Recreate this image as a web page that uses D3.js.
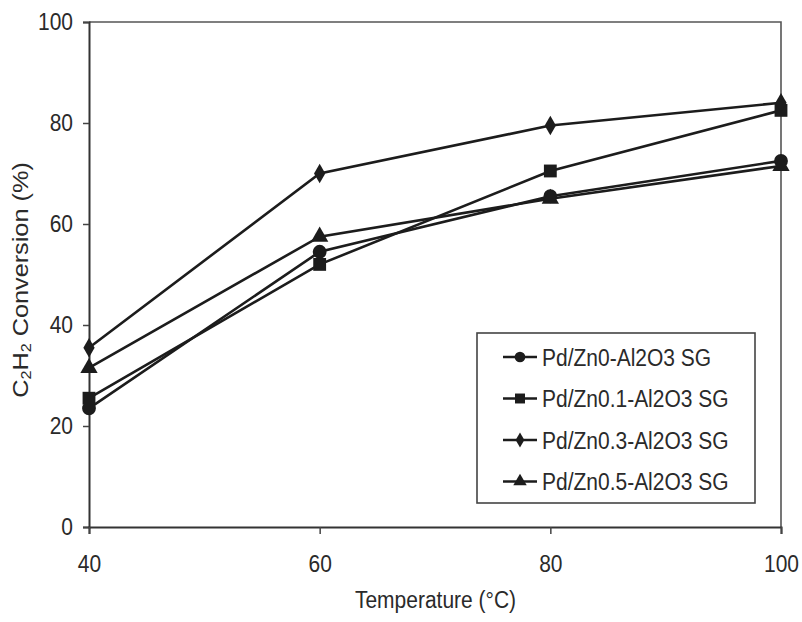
<!DOCTYPE html>
<html>
<head>
<meta charset="utf-8">
<script src="https://cdn.jsdelivr.net/npm/d3@7"></script>
<style>
  body { margin: 0; background: #fff; }
  text { font-family: "Liberation Sans", Arial, sans-serif; fill: #2a2a2a; }
</style>
</head>
<body>
<div id="chart"></div>
<script>
// data
var temps = [40, 60, 80, 100];
var seriesNames = ["Pd/Zn0-Al2O3 SG", "Pd/Zn0.1-Al2O3 SG", "Pd/Zn0.3-Al2O3 SG", "Pd/Zn0.5-Al2O3 SG"];
var zn0 = [23.5, 54.5, 65.5, 72.5];
var zn01 = [25.5, 52, 70.5, 82.5];
var zn03 = [35.5, 70, 79.5, 84];
var zn05 = [31.5, 57.5, 65, 71.5];
var yTicks = [0, 20, 40, 60, 80, 100];
var xTicks = [40, 60, 80, 100];

var series = [
    { name: seriesNames[0], values: zn0, symbol: d3.symbolCircle, size: 150 },
    { name: seriesNames[1], values: zn01, symbol: d3.symbolSquare, size: 165 },
    { name: seriesNames[2], values: zn03, symbol: d3.symbolDiamond, size: 110 },
    { name: seriesNames[3], values: zn05, symbol: d3.symbolTriangle, size: 130 }
];

// formatting parameters
var W = 802, H = 622;
var margin = { top: 22, bottom: 95, left: 89, right: 21 };
var width = W - margin.left - margin.right;
var height = H - margin.top - margin.bottom;
var ink = "#1c1c1c";
var tall = 1.12;   // text is a bit taller than plain Arial

var svg = d3.select("#chart")
    .append("svg")
    .attr("width", W)
    .attr("height", H)
    .append("g")
    .attr("transform", "translate(" + margin.left + "," + margin.top + ")");

var x = d3.scaleLinear().domain([40, 100]).range([0, width]);
var y = d3.scaleLinear().domain([0, 100]).range([height, 0]);

// plot area border (top and right)
svg.append("path")
    .attr("d", "M0,0H" + width + "V" + height)
    .attr("fill", "none")
    .attr("stroke", "#555")
    .attr("stroke-width", 1.6);

// y-axis
var yAxis = svg.append("g")
    .call(d3.axisLeft(y).tickValues(yTicks).tickSize(6).tickPadding(10));
// x-axis
var xAxis = svg.append("g")
    .attr("transform", "translate(0," + height + ")")
    .call(d3.axisBottom(x).tickValues(xTicks).tickSize(7).tickPadding(18));

[xAxis, yAxis].forEach(function (a) {
    a.select(".domain").attr("stroke", "#333").attr("stroke-width", 2);
    a.selectAll(".tick line").attr("stroke", "#444").attr("stroke-width", 1.5);
    a.selectAll(".tick text")
        .style("font-size", "21px")
        .style("font-family", "'Liberation Sans', Arial, sans-serif")
        .attr("fill", "#2a2a2a")
        .attr("transform", "scale(1," + tall + ")");
});

// axis titles
svg.append("text")
    .attr("transform", "translate(" + (x(70) + 0.5) + "," + (height + 81) + ") scale(1,1.1)")
    .style("text-anchor", "middle")
    .style("font-size", "21px")
    .text("Temperature (°C)");

var yl = svg.append("text")
    .attr("transform", "translate(" + (-61) + "," + (280 - margin.top) + ") rotate(-90) scale(1.15,1)")
    .style("text-anchor", "middle")
    .style("font-size", "22px");
yl.append("tspan").text("C");
yl.append("tspan").text("2").style("font-size", "14px").attr("dy", 3);
yl.append("tspan").text("H").attr("dy", -3);
yl.append("tspan").text("2").style("font-size", "14px").attr("dy", 3);
yl.append("tspan").text(" Conversion (%)").attr("dy", -3);

// lines
var line = d3.line()
    .x(function (d, i) { return x(temps[i]); })
    .y(function (d) { return y(d); });

svg.selectAll(".series")
    .data(series)
    .enter()
    .append("path")
    .attr("class", "series")
    .attr("d", function (d) { return line(d.values); })
    .attr("fill", "none")
    .attr("stroke", ink)
    .attr("stroke-width", 2.6);

// markers
series.forEach(function (s) {
    svg.selectAll(null)
        .data(s.values)
        .enter()
        .append("path")
        .attr("d", d3.symbol().type(s.symbol).size(s.size))
        .attr("transform", function (d, i) { return "translate(" + x(temps[i]) + "," + y(d) + ")"; })
        .attr("fill", ink);
});

// legend
var lg = svg.append("g")
    .attr("transform", "translate(" + (477 - margin.left) + "," + (333 - margin.top) + ")");
lg.append("rect")
    .attr("width", 278)
    .attr("height", 170)
    .attr("fill", "#fff")
    .attr("stroke", "#444")
    .attr("stroke-width", 1.6);

var rows = lg.selectAll(".row")
    .data(series)
    .enter()
    .append("g")
    .attr("transform", function (d, i) { return "translate(0," + (24 + i * 41.5) + ")"; });
rows.append("line")
    .attr("x1", 26).attr("x2", 60)
    .attr("stroke", ink).attr("stroke-width", 2.4);
rows.append("path")
    .attr("d", function (d) { return d3.symbol().type(d.symbol).size(d.size * 0.6)(); })
    .attr("transform", "translate(43,0)")
    .attr("fill", ink);
rows.append("text")
    .attr("transform", "translate(65,0) scale(1,1.15)")
    .attr("dy", "0.36em")
    .style("font-size", "21px")
    .text(function (d) { return d.name; });
</script>
</body>
</html>
